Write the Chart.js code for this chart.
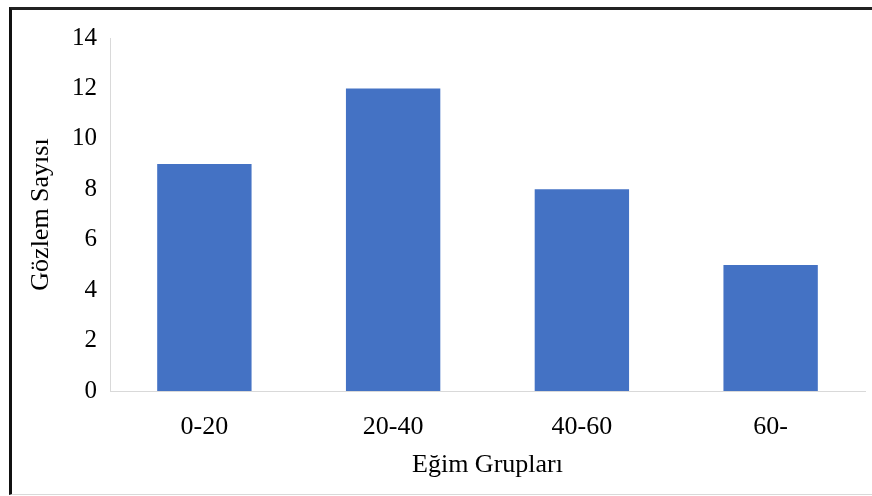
<!DOCTYPE html>
<html lang="en">
<head>
  <meta charset="UTF-8">
  <title>Eğim Grupları</title>
  <script src="https://cdn.jsdelivr.net/npm/chart.js"></script>
  <style>
    html, body { margin: 0; padding: 0; background: #fff; }
    #wrap { position: relative; width: 872px; height: 496px; }
    #frame {
      position: absolute; left: 9px; top: 7px; right: -5px; bottom: 1px;
      border-left: 3px solid #111; border-top: 3px solid #222;
      border-bottom: 1px solid #d9d9d9; pointer-events: none;
    }
  </style>
</head>
<body>
  <div id="wrap">
    <canvas id="myChart" width="872" height="496"></canvas>
    <div id="frame"></div>
  </div>

  <script>
    // data
    var categories = ['0-20', '20-40', '40-60', '60-'];
    var counts = [9, 12, 8, 5];
    var yTicks = [0, 2, 4, 6, 8, 10, 12, 14];

    var serif = "'Liberation Serif', 'Times New Roman', serif";

    new Chart(document.getElementById('myChart'), {
      type: 'bar',
      data: {
        labels: categories,
        datasets: [{
          data: counts,
          backgroundColor: '#4472C4',
          barPercentage: 0.5,
          categoryPercentage: 1
        }]
      },
      options: {
        responsive: false,
        animation: false,
        layout: { padding: { top: 38, right: 7, bottom: 11, left: 26 } },
        plugins: { legend: { display: false }, tooltip: { enabled: false } },
        scales: {
          x: {
            grid: { display: false },
            border: { display: true, color: '#d9d9d9', width: 1 },
            ticks: { color: '#000', font: { family: serif, size: 26 }, padding: 13 },
            title: { display: true, text: 'Eğim Grupları', color: '#000', font: { family: serif, size: 26 }, padding: { top: 4, bottom: 4 } },
            afterFit: function (s) { s.height = 94; }
          },
          y: {
            min: 0,
            max: 14,
            afterBuildTicks: function (s) { s.ticks = yTicks.map(function (v) { return { value: v }; }); },
            grid: { display: false },
            border: { display: true, color: '#d9d9d9', width: 1 },
            ticks: { color: '#000', font: { family: serif, size: 25 }, padding: 5 },
            title: { display: true, text: 'Gözlem Sayısı', color: '#000', font: { family: serif, size: 26 }, padding: { top: 0, bottom: 0 } },
            afterFit: function (s) { s.width = 84; }
          }
        }
      }
    });
  </script>
</body>
</html>
